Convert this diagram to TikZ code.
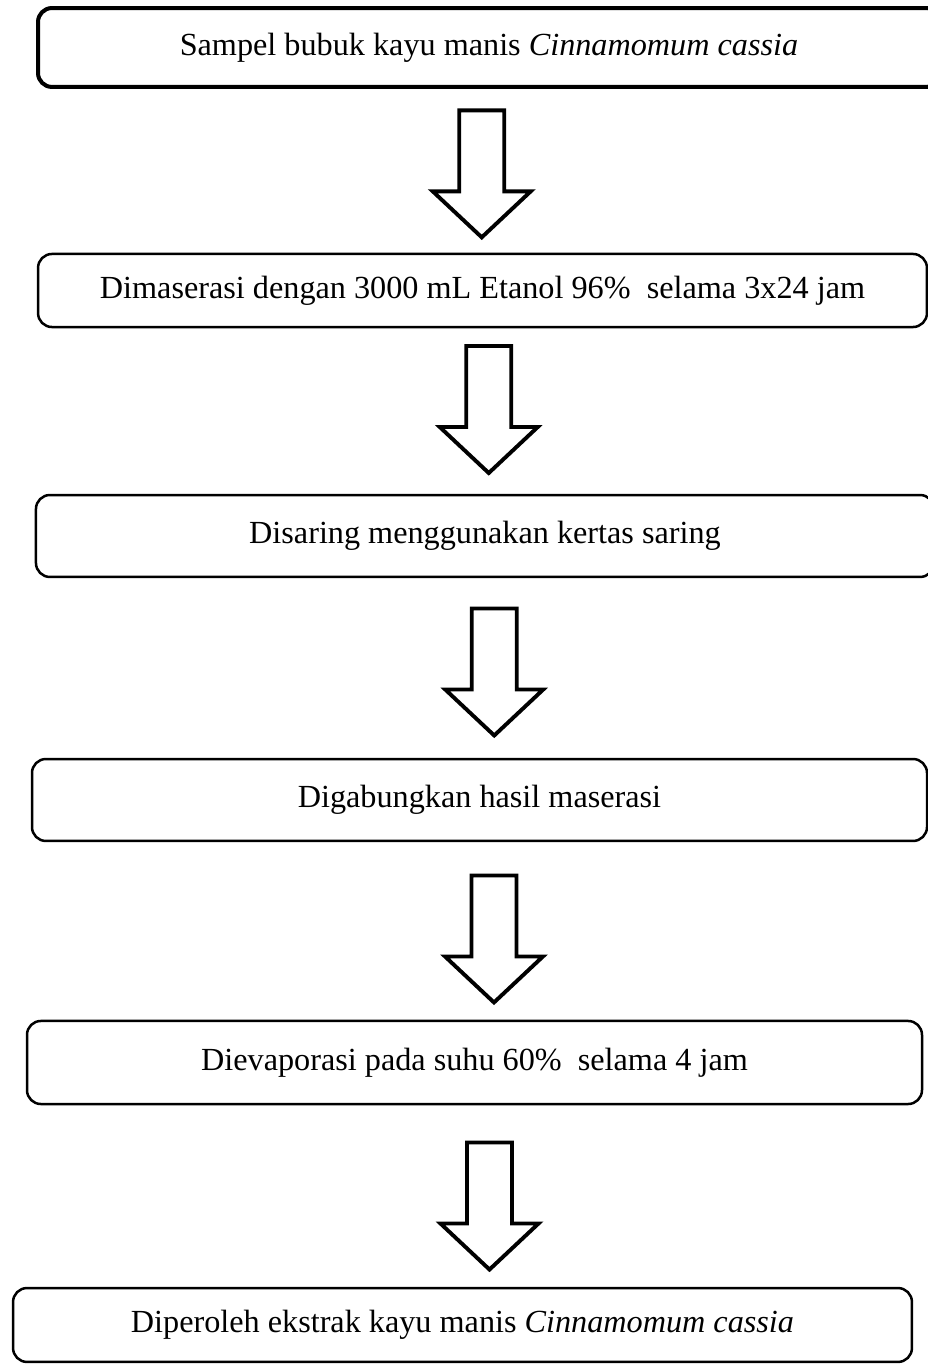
\documentclass[tikz,border=0pt]{standalone}
\usepackage{fontspec}
\setmainfont{Liberation Serif}
\usetikzlibrary{calc}
\tikzset{
  %% boxes
  stepbox/.style  = {rounded corners=5pt, draw=black, line width=0.9pt,
                     fill=white, inner sep=0pt, align=center,
                     font=\fontsize{11.6}{14}\selectfont},
  startbox/.style = {stepbox, line width=1.45pt},
  %% hollow block arrow (drawn in picture units)
  downarrow/.pic  = {
    \draw[line width=1.4pt, line join=miter, fill=white]
      (-22.5,63.5) -- (22.5,63.5) -- (22.5,-17.5) -- (49,-17.5)
      -- (0,-63.5) -- (-49,-17.5) -- (-22.5,-17.5) -- cycle;
  },
}

\begin{document}
\begin{tikzpicture}[x=0.36pt, y=0.36pt]
\useasboundingbox (0,0) rectangle (928,1364);

%% ---- process steps, top to bottom ----
\node[startbox, minimum width=324.7pt, minimum height=28.4pt] (sampel) at (489,1316.5)
   {Sampel bubuk kayu manis \textit{Cinnamomum cassia}};
\node[stepbox, minimum width=320pt, minimum height=26.3pt] (maserasi) at (482.5,1073.5)
   {Dimaserasi dengan 3000 mL Etanol 96\%\ \ selama 3x24 jam};
\node[stepbox, minimum width=323.3pt, minimum height=29.5pt] (saring) at (485,828)
   {Disaring menggunakan kertas saring};
\node[stepbox, minimum width=322.2pt, minimum height=29.5pt] (gabung) at (479.5,564)
   {Digabungkan hasil maserasi};
\node[stepbox, minimum width=322.2pt, minimum height=29.9pt] (evaporasi) at (474.5,301.5)
   {Dievaporasi pada suhu 60\%\ \ selama 4 jam};
\node[stepbox, minimum width=323.6pt, minimum height=26.6pt] (ekstrak) at (462.5,39)
   {Diperoleh ekstrak kayu manis \textit{Cinnamomum cassia}};

%% ---- block arrows between the steps ----
\pic[shift={(-4,-3)}]  at ($(sampel.south)!0.5!(maserasi.north)$)  {downarrow};
\pic[shift={(5,1.5)}]  at ($(maserasi.south)!0.5!(saring.north)$)  {downarrow};
\pic[shift={(12,-4)}]  at ($(saring.south)!0.5!(gabung.north)$)    {downarrow};
\pic[shift={(17,-8)}]  at ($(gabung.south)!0.5!(evaporasi.north)$) {downarrow};
\pic[shift={(21,-10)}] at ($(evaporasi.south)!0.5!(ekstrak.north)$) {downarrow};
\end{tikzpicture}
\end{document}
